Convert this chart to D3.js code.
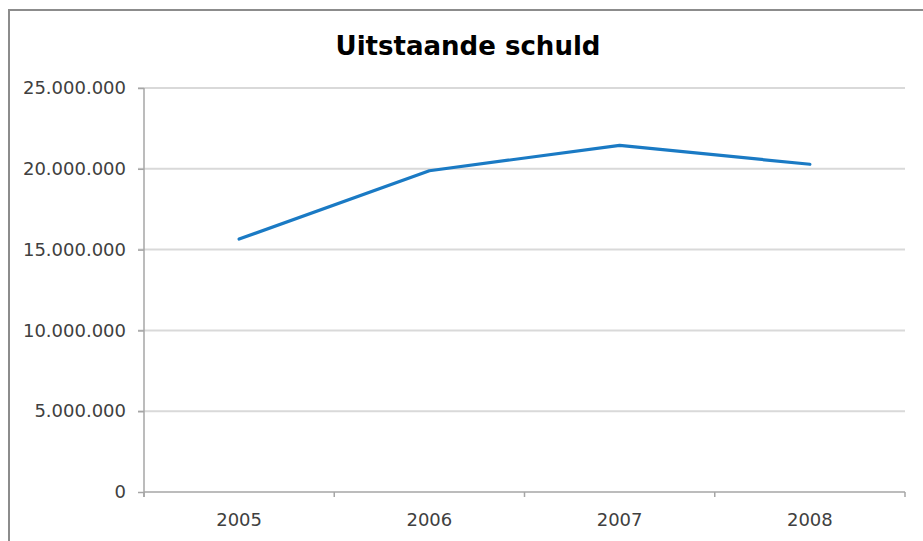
<!DOCTYPE html>
<html>
<head>
<meta charset="utf-8">
<script src="https://cdn.jsdelivr.net/npm/d3@7"></script>
<style>
  body { margin: 0; background: #fff; }
  svg { display: block; }
</style>
</head>
<body>
<svg width="923" height="541"></svg>
<script>
'use strict';

var years = ['2005', '2006', '2007', '2008'];
var schuld = [15650000, 19880000, 21450000, 20280000];
var yTicks = [0, 5000000, 10000000, 15000000, 20000000, 25000000];
var title = 'Uitstaande schuld';

(function () {
  var svg = d3.select('svg');
  var nl = d3.formatLocale({ decimal: ',', thousands: '.', grouping: [3], currency: ['€', ''] });
  var fmt = nl.format(',d');

  var plotLeft = 144, plotRight = 905, plotTop = 88, plotBottom = 492;

  var x = d3.scaleBand().domain(years).range([plotLeft, plotRight]).padding(0);
  var y = d3.scaleLinear().domain([0, 25000000]).range([plotBottom, plotTop]);

  // chart border (right / bottom edges fall outside the picture)
  svg.append('rect')
    .attr('x', 9).attr('y', 10)
    .attr('width', 940).attr('height', 560)
    .attr('fill', 'none')
    .attr('stroke', '#8c8c8c')
    .attr('stroke-width', 2);

  svg.append('text')
    .attr('x', 468).attr('y', 55)
    .attr('text-anchor', 'middle')
    .attr('font-family', 'DejaVu Sans, sans-serif')
    .attr('font-weight', 'bold')
    .attr('font-size', 27)
    .attr('textLength', 265)
    .attr('lengthAdjust', 'spacingAndGlyphs')
    .attr('fill', '#000')
    .text(title);

  // gridlines
  svg.append('g').selectAll('line')
    .data(yTicks.filter(function (d) { return d > 0; }))
    .enter().append('line')
    .attr('x1', plotLeft - 6).attr('x2', plotRight)
    .attr('y1', function (d) { return y(d); })
    .attr('y2', function (d) { return y(d); })
    .attr('stroke', '#d9d9d9')
    .attr('stroke-width', 2);

  // y axis
  var yAxis = svg.append('g')
    .attr('transform', 'translate(' + plotLeft + ',0)')
    .call(d3.axisLeft(y).tickValues(yTicks).tickFormat(fmt).tickSize(6).tickPadding(12));
  yAxis.select('.domain').attr('stroke', '#a6a6a6').attr('stroke-width', 1.5)
    .attr('d', 'M0,' + plotTop + 'V' + (plotBottom + 5));
  yAxis.selectAll('.tick line').attr('stroke', '#a6a6a6').attr('stroke-width', 1.5);
  yAxis.selectAll('text')
    .attr('font-family', 'DejaVu Sans, sans-serif')
    .attr('font-size', 18)
    .attr('fill', '#404040');

  // x axis (labels centred in bands, ticks on band edges)
  var xAxis = svg.append('g')
    .attr('transform', 'translate(0,' + plotBottom + ')')
    .call(d3.axisBottom(x).tickSize(0).tickPadding(21));
  xAxis.select('.domain').attr('stroke', '#a6a6a6').attr('stroke-width', 1.5)
    .attr('d', 'M' + plotLeft + ',0H' + plotRight);
  xAxis.selectAll('text')
    .attr('font-family', 'DejaVu Sans, sans-serif')
    .attr('font-size', 18)
    .attr('fill', '#404040');
  xAxis.selectAll('line.edge')
    .data(years.map(function (d) { return x(d); }).concat([plotRight]))
    .enter().append('line')
    .attr('class', 'edge')
    .attr('x1', function (d) { return d; })
    .attr('x2', function (d) { return d; })
    .attr('y1', 0).attr('y2', 5)
    .attr('stroke', '#a6a6a6')
    .attr('stroke-width', 1.5);

  // series line
  var line = d3.line()
    .x(function (d, i) { return x(years[i]) + x.bandwidth() / 2; })
    .y(function (d) { return y(d); });

  svg.append('path')
    .datum(schuld)
    .attr('d', line)
    .attr('fill', 'none')
    .attr('stroke', '#1a7ac4')
    .attr('stroke-width', 3.2)
    .attr('stroke-linejoin', 'round')
    .attr('stroke-linecap', 'round');
})();
</script>
</body>
</html>
